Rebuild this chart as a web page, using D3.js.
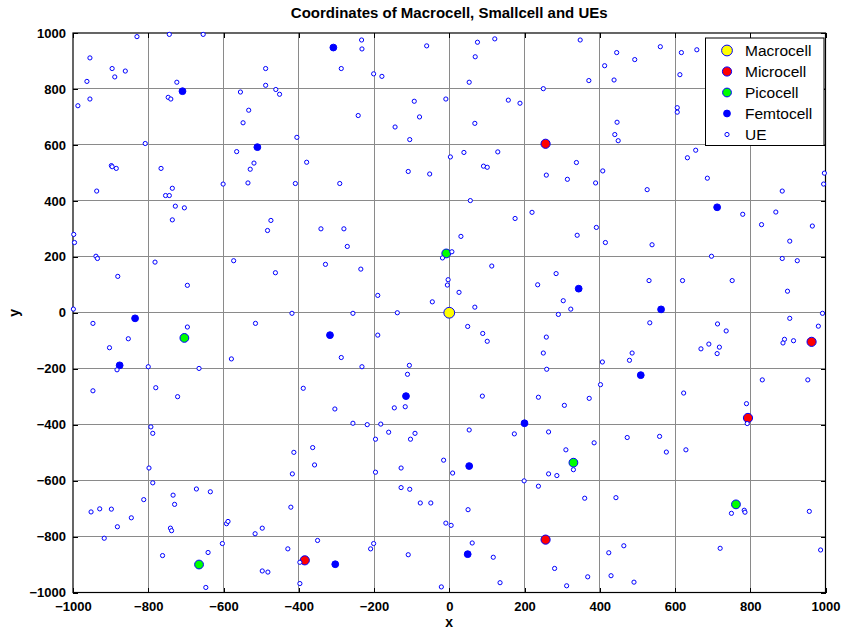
<!DOCTYPE html>
<html>
<head>
<meta charset="utf-8">
<script src="https://cdn.jsdelivr.net/npm/d3@7/dist/d3.min.js"></script>
<style>
  html, body { margin: 0; padding: 0; background: #fff; }
  svg { display: block; font-family: "Liberation Sans", Arial, sans-serif; }
</style>
</head>
<body>
<svg id="chart" width="844" height="632"></svg>
<script>
// Base stations and user equipment positions (metres)
const macrocell = [[0, 0]];
const microcells = [[256, 604], [963, -104], [794, -376], [256, -811], [-384, -885]];
const picocells = [[-8, 212], [-704, -90], [330, -536], [762, -685], [-665, -900]];
const femtocells = [
  [-709, 792], [-510, 592], [-308, 948], [-835, -20], [-876, -188],
  [-317, -80], [-115, -298], [344, 86], [563, 12], [712, 377],
  [509, -223], [200, -395], [53, -548], [49, -863], [-303, -899]
];
const ues = [
  [-830,987],[-744,995],[-654,995],[-955,911],[-896,873],[-861,864],[-889,843],[-963,827],[-724,824],[-747,770],
  [-740,764],[-955,764],[-987,740],[-555,789],[-533,724],[-548,679],[-808,605],[-565,576],[-898,526],[-896,522],
  [-885,516],[-766,516],[-519,535],[-529,513],[-601,460],[-535,464],[-937,435],[-736,445],[-754,419],[-744,419],
  [-728,381],[-704,375],
  [-233,975],[-232,943],[-60,954],[-488,873],[-287,873],[-201,854],[-179,845],[-488,813],[-461,798],[-451,781],
  [-93,756],[-9,764],[-242,705],[-79,700],[-144,664],[-105,619],[-405,627],[3,557],[-379,538],[-109,505],
  [-52,496],[-409,462],[-291,462],
  [75,967],[121,979],[348,975],[69,915],[53,824],[250,801],[371,830],[445,930],[493,905],[413,883],
  [438,832],[157,760],[188,749],[68,677],[446,681],[440,637],[449,615],[39,573],[129,575],[91,524],
  [101,520],[258,492],[314,477],[338,537],[408,507],[389,464],[56,401],[220,359],
  [561,951],[617,930],[658,940],[613,851],[606,733],[606,717],[655,581],[633,554],[686,481],[526,440],
  [885,435],[997,499],[995,460],[780,352],[868,360],
  [-736,332],[-998,280],[-996,251],[-939,202],[-935,194],[-782,181],[-573,186],[-881,130],[-696,98],[-999,13],
  [-947,-38],[-515,-38],[-696,-51],[-853,-93],[-903,-125],[-579,-165],[-883,-204],[-800,-193],[-665,-199],[-947,-279],
  [-780,-268],[-722,-300],
  [-474,330],[-483,294],[-341,300],[-280,300],[-271,237],[-329,173],[-235,156],[-462,143],[-190,62],[-45,39],
  [-418,-2],[-256,-2],[-138,0],[-18,196],[7,218],[-3,118],[-5,99],[-190,-80],[-287,-160],[-232,-193],
  [-106,-188],[-111,-220],[-388,-270],
  [175,337],[391,305],[340,277],[415,251],[31,273],[113,167],[26,73],[68,20],[284,140],[235,100],
  [303,43],[323,13],[290,-6],[49,-49],[89,-74],[101,-102],[258,-87],[250,-144],[259,-202],[407,-176],
  [486,-144],[479,-170],[402,-257],[88,-298],[237,-302],[372,-306],
  [830,315],[965,310],[905,256],[539,243],[697,202],[885,194],[925,186],[531,115],[620,115],[752,115],
  [899,77],[533,-36],[713,-40],[736,-65],[690,-112],[669,-129],[718,-123],[712,-146],[905,-20],[981,-48],
  [992,-2],[891,-95],[887,-108],[915,-100],[832,-240],[953,-240],[623,-287],[790,-325],
  [-793,-408],[-788,-431],[-798,-555],[-788,-608],[-672,-630],[-635,-640],[-812,-668],[-734,-652],[-730,-685],[-952,-712],
  [-929,-701],[-898,-702],[-845,-733],[-882,-765],[-741,-770],[-738,-779],[-917,-806],[-592,-754],[-588,-746],[-516,-790],
  [-497,-770],[-603,-825],[-641,-857],[-762,-868],[-647,-982],[-497,-923],
  [-304,-344],[-146,-340],[-117,-336],[-256,-395],[-218,-400],[-182,-398],[-161,-427],[-91,-431],[-196,-452],[-103,-452],
  [-363,-482],[-413,-499],[-358,-544],[-417,-576],[-196,-570],[-128,-555],[-15,-527],[9,-573],[-128,-625],[-105,-631],
  [-77,-680],[-49,-680],[-421,-695],[-9,-752],[5,-760],[-350,-814],[-429,-844],[-201,-825],[-209,-844],[-109,-865],
  [-397,-892],[-482,-927],[-397,-968],[-21,-980],
  [306,-331],[53,-419],[173,-433],[264,-426],[385,-465],[473,-446],[310,-490],[330,-561],[264,-576],[286,-582],
  [199,-601],[237,-620],[360,-663],[443,-661],[50,-704],[61,-823],[117,-874],[280,-914],[368,-944],[312,-976],
  [135,-965],[424,-858],[464,-833],[430,-940],[491,-963],
  [792,-396],[559,-442],[577,-498],[629,-490],[750,-717],[784,-706],[786,-713],[957,-710],[720,-842],[987,-848]
];
const tickValues = [-1000, -800, -600, -400, -200, 0, 200, 400, 600, 800, 1000];
const titleText = "Coordinates of Macrocell, Smallcell and UEs";
const legendLabels = ["Macrocell", "Microcell", "Picocell", "Femtocell", "UE"];

const svg = d3.select("#chart");
const plotL = 73, plotR = 825.5, plotT = 33, plotB = 592.5;

const x = d3.scaleLinear().domain([-1000, 1000]).range([plotL, plotR]);
const y = d3.scaleLinear().domain([-1000, 1000]).range([plotB, plotT]);

// grid
const grid = svg.append("g");
grid.selectAll("line.vx").data(tickValues.slice(1, -1)).join("line")
  .attr("x1", d => x(d)).attr("x2", d => x(d))
  .attr("y1", plotT).attr("y2", plotB)
  .attr("stroke", "#8a8a8a").attr("stroke-width", 1).attr("shape-rendering", "crispEdges");
grid.selectAll("line.hy").data(tickValues.slice(1, -1)).join("line")
  .attr("y1", d => y(d)).attr("y2", d => y(d))
  .attr("x1", plotL).attr("x2", plotR)
  .attr("stroke", "#8a8a8a").attr("stroke-width", 1).attr("shape-rendering", "crispEdges");

// axes: labelled bottom/left, plain inward ticks on top/right
const tickFont = g => g.selectAll("text")
  .attr("font-size", 13).attr("font-weight", "bold").attr("fill", "#000")
  .attr("font-family", "'Liberation Sans', Arial, sans-serif");

const xAxis = svg.append("g").attr("transform", `translate(0,${plotB})`)
  .call(d3.axisBottom(x).tickValues(tickValues).tickFormat(d3.format("d"))
    .tickSizeInner(-5).tickSizeOuter(0).tickPadding(9));
xAxis.call(tickFont);
xAxis.select(".domain").remove();

const yAxis = svg.append("g").attr("transform", `translate(${plotL},0)`)
  .call(d3.axisLeft(y).tickValues(tickValues).tickFormat(d3.format("d"))
    .tickSizeInner(-5).tickSizeOuter(0).tickPadding(7));
yAxis.call(tickFont);
yAxis.select(".domain").remove();

const xTop = svg.append("g").attr("transform", `translate(0,${plotT})`)
  .call(d3.axisTop(x).tickValues(tickValues).tickFormat("").tickSizeInner(-5).tickSizeOuter(0));
xTop.select(".domain").remove();
const yRight = svg.append("g").attr("transform", `translate(${plotR},0)`)
  .call(d3.axisRight(y).tickValues(tickValues).tickFormat("").tickSizeInner(-5).tickSizeOuter(0));
yRight.select(".domain").remove();

svg.selectAll(".tick line").attr("stroke", "#000").attr("shape-rendering", "crispEdges");

// frame
svg.append("rect").attr("x", plotL).attr("y", plotT)
  .attr("width", plotR - plotL).attr("height", plotB - plotT)
  .attr("fill", "none").attr("stroke", "#000").attr("stroke-width", 1.2);

// marks
const marks = svg.append("g");
const styles = {
  ue:    { r: 2.1, fill: "#fff",    stroke: "#0000ff", sw: 1 },
  femto: { r: 3.4, fill: "#0000ff", stroke: "#0000ff", sw: 1 },
  pico:  { r: 4.4, fill: "#00ff00", stroke: "#0000ff", sw: 1 },
  micro: { r: 4.6, fill: "#ff0000", stroke: "#0000ff", sw: 1 },
  macro: { r: 5.4, fill: "#ffff00", stroke: "#0000ff", sw: 1 }
};
function drawSet(data, s) {
  marks.append("g").selectAll("circle").data(data).join("circle")
    .attr("cx", d => x(d[0])).attr("cy", d => y(d[1]))
    .attr("r", s.r).attr("fill", s.fill).attr("stroke", s.stroke).attr("stroke-width", s.sw);
}
drawSet(macrocell, styles.macro);
drawSet(microcells, styles.micro);
drawSet(picocells, styles.pico);
drawSet(femtocells, styles.femto);
drawSet(ues, styles.ue);

// titles
svg.append("text").attr("x", (plotL + plotR) / 2).attr("y", 18)
  .attr("text-anchor", "middle").attr("font-size", 15).attr("font-weight", "bold")
  .text(titleText);
svg.append("text").attr("x", (plotL + plotR) / 2).attr("y", 627)
  .attr("text-anchor", "middle").attr("font-size", 14).attr("font-weight", "bold")
  .text("x");
svg.append("text").attr("transform", `translate(19,${(plotT + plotB) / 2}) rotate(-90)`)
  .attr("text-anchor", "middle").attr("font-size", 14).attr("font-weight", "bold")
  .text("y");

// legend
const lg = svg.append("g");
lg.append("rect").attr("x", 705.5).attr("y", 38).attr("width", 118.5).attr("height", 107.5)
  .attr("fill", "#fff").attr("stroke", "#000").attr("stroke-width", 1);
const legendStyles = [styles.macro, styles.micro, styles.pico, styles.femto, styles.ue];
legendLabels.forEach((label, i) => {
  const cy = 50.5 + i * 21;
  const s = legendStyles[i];
  lg.append("circle").attr("cx", 727).attr("cy", cy).attr("r", s.r)
    .attr("fill", s.fill).attr("stroke", s.stroke).attr("stroke-width", s.sw);
  lg.append("text").attr("x", 745).attr("y", cy).attr("dy", "0.36em")
    .attr("font-size", 15.5).text(label);
});
</script>
</body>
</html>
